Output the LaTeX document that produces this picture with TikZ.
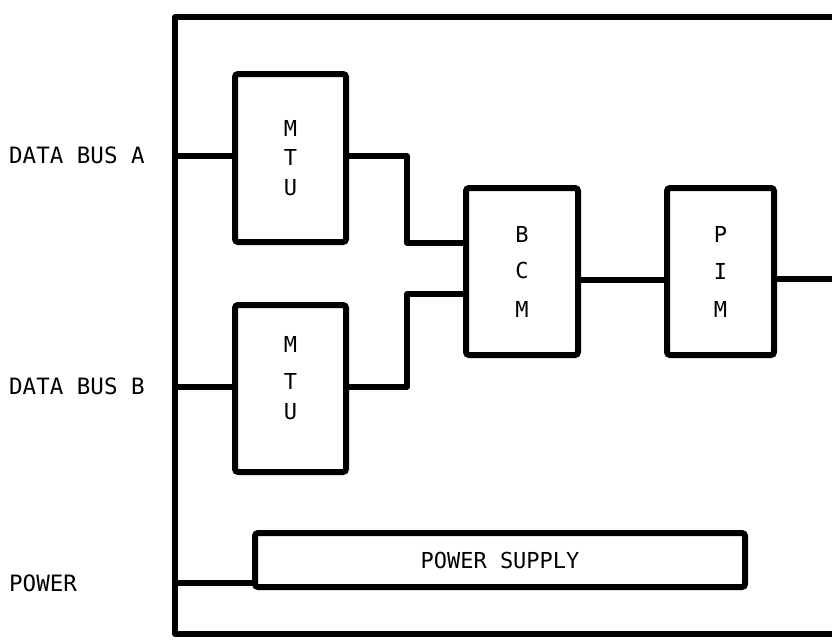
\documentclass[tikz,border=0pt]{standalone}
\usepackage{fontspec}
\newfontfamily\plotfont{DejaVu Sans Mono}
\begin{document}
\begin{tikzpicture}[x=1pt,y=-1pt,
  wire/.style={line width=5.5pt, line cap=round, line join=round},
  blk/.style={draw, line width=6pt, rounded corners=3pt, inner sep=0pt, align=center,
    font=\plotfont\fontsize{22}{26}\selectfont},
  txt/.style={inner sep=0pt, align=center, font=\plotfont\fontsize{22}{26}\selectfont},
  lbl/.style={font=\plotfont\fontsize{22.5}{26}\selectfont, anchor=west, inner sep=0pt}]
\useasboundingbox (0,0) rectangle (832,641);
\clip (0,0) rectangle (832,641);
% outer enclosure
\draw[wire] (900,17) -- (175,17) -- (175,634) -- (900,634);
% blocks
\node[blk, minimum width=111pt, minimum height=168pt] (mtua) at (290.5,158) {M\\[3pt]T\\[4pt]U};
\node[blk, minimum width=111pt, minimum height=167pt] (mtub) at (290.5,388.5) {};
\node[txt] (mtubt) at (290.5,378) {M\\[11pt]T\\[4pt]U};
\node[blk, minimum width=112pt, minimum height=167pt] (bcm) at (522,271.5) {B\\[10pt]C\\[13pt]M};
\node[blk, minimum width=107pt, minimum height=167pt] (pim) at (720.5,271.5) {P\\[11pt]I\\[12pt]M};
\node[blk, minimum width=490pt, minimum height=54pt] (ps) at (500,560) {POWER SUPPLY};
% labels
\node[lbl] (la) at (9,155) {DATA BUS A};
\node[lbl] (lb) at (9,386) {DATA BUS B};
\node[lbl] (lp) at (9,583) {POWER};
% ports on enclosure
\coordinate (pa) at (175,156);
\coordinate (pb) at (175,387);
\coordinate (pp) at (175,583);
\coordinate (out) at (840,279);
% connectors
\draw[wire] (pa) -- (mtua.west |- pa);
\draw[wire] (pb) -- (mtub.west |- pb);
\draw[wire] (pp) -- (ps.west |- pp);
\draw[wire] (mtua.east |- 0,156) -- (407,156) -- (407,243) -- (bcm.west |- 0,243);
\draw[wire] (mtub.east |- 0,387) -- (407,387) -- (407,294) -- (bcm.west |- 0,294);
\draw[wire] (bcm.east |- 0,280) -- (pim.west |- 0,280);
\draw[wire] (pim.east |- 0,279) -- (out);
\end{tikzpicture}
\end{document}
